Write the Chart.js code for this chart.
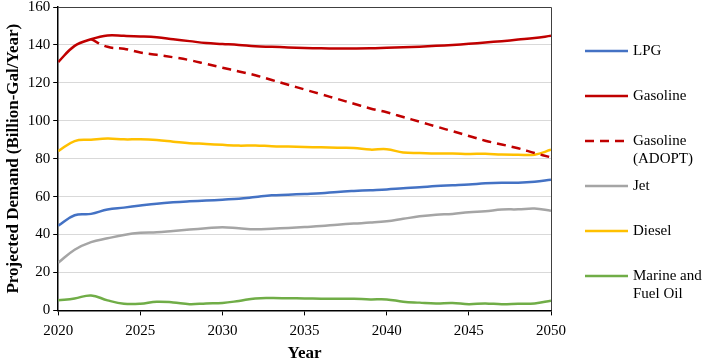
<!DOCTYPE html>
<html>
<head>
<meta charset="utf-8">
<script src="https://cdn.jsdelivr.net/npm/chart.js@4"></script>
<style>
  html, body { margin: 0; padding: 0; background: #fff; }
  #wrap { width: 706px; height: 360px; position: relative; }
</style>
</head>
<body>
<div id="wrap"><canvas id="demandChart"></canvas></div>
<script>
const years = [];
for (let y = 2020; y <= 2050; y++) years.push(y);

const seriesNames = ["LPG", "Gasoline", "Gasoline (ADOPT)", "Jet", "Diesel", "Marine and Fuel Oil"];

const lpg = [44.7, 50.2, 50.9, 53.2, 54.2, 55.3, 56.3, 57.0, 57.5, 57.9, 58.4, 58.9, 59.8, 60.7, 61.0, 61.4,
  61.8, 62.5, 63.0, 63.4, 63.8, 64.4, 64.9, 65.6, 66.0, 66.4, 67.0, 67.3, 67.3, 67.8, 68.9];
const gasoline = [131.0, 139.5, 143.0, 145.0, 144.8, 144.5, 144.0, 143.0, 142.0, 141.0, 140.5, 140.0, 139.3, 139.0,
  138.7, 138.4, 138.2, 138.1, 138.1, 138.2, 138.5, 138.8, 139.1, 139.5, 140.0, 140.6, 141.3, 142.0, 142.8, 143.6, 144.8];
const gasolineAdopt = [null, null, 143.0, 139.0, 138.0, 136.0, 134.8, 133.5, 132.0, 130.0, 128.0, 126.0, 124.0,
  121.5, 119.0, 116.5, 114.0, 111.5, 109.0, 106.5, 104.5, 102.0, 99.5, 97.0, 94.5, 92.0, 89.5, 87.5, 85.5, 83.0, 80.7];
const jet = [25.1, 32.0, 36.0, 38.0, 39.8, 40.9, 41.2, 41.9, 42.6, 43.3, 43.9, 43.3, 42.8, 43.1, 43.5, 44.0,
  44.5, 45.2, 45.8, 46.3, 47.0, 48.3, 49.6, 50.5, 50.9, 51.8, 52.3, 53.2, 53.3, 53.7, 52.6];
const diesel = [84.0, 89.3, 90.0, 90.6, 90.2, 90.2, 89.8, 89.0, 88.2, 87.8, 87.3, 86.9, 87.0, 86.6, 86.4, 86.2,
  86.0, 85.8, 85.7, 84.8, 85.0, 83.3, 83.0, 82.7, 82.8, 82.5, 82.6, 82.2, 82.1, 82.1, 84.7];
const marine = [5.3, 6.3, 7.9, 5.3, 3.5, 3.5, 4.6, 4.2, 3.3, 3.7, 3.9, 5.0, 6.3, 6.5, 6.4, 6.3,
  6.2, 6.2, 6.1, 5.8, 5.8, 4.6, 4.1, 3.7, 3.9, 3.3, 3.7, 3.2, 3.5, 3.7, 5.1];

const colors = ["#4472C4", "#C00000", "#C00000", "#A5A5A5", "#FFC000", "#70AD47"];
const seriesValues = [lpg, gasoline, gasolineAdopt, jet, diesel, marine];

const serif = "'Liberation Serif', 'Times New Roman', serif";

const datasets = seriesValues.map((vals, i) => ({
  label: seriesNames[i],
  data: vals.map((v, j) => ({ x: years[j], y: v })),
  borderColor: colors[i],
  backgroundColor: colors[i],
  borderWidth: 2.5,
  borderDash: i === 2 ? [9, 6] : [],
  pointRadius: 0,
  tension: 0.4,
  fill: false,
  spanGaps: false,
}));

// box round the plot area plus the legend on the right
const frameAndLegend = {
  id: "frameAndLegend",
  afterDatasetsDraw(chart) {
    const { ctx, chartArea } = chart;
    ctx.save();
    ctx.strokeStyle = "#404040";
    ctx.lineWidth = 1;
    ctx.beginPath();
    ctx.moveTo(chartArea.left, chartArea.top + 0.5);
    ctx.lineTo(chartArea.right + 0.5, chartArea.top + 0.5);
    ctx.lineTo(chartArea.right + 0.5, chartArea.bottom);
    ctx.stroke();
    ctx.restore();
  },
  afterDraw(chart) {
    const { ctx } = chart;
    const lineX0 = 585, lineX1 = 628, textX = 633, top = 51, gap = 45, maxW = 73;
    ctx.save();
    ctx.font = "15px " + serif;
    ctx.textBaseline = "middle";
    ctx.fillStyle = "#000";
    chart.data.datasets.forEach((ds, i) => {
      const y = top + i * gap;
      ctx.strokeStyle = ds.borderColor;
      ctx.lineWidth = 2.5;
      ctx.setLineDash(ds.borderDash);
      ctx.beginPath();
      ctx.moveTo(lineX0, y);
      ctx.lineTo(lineX1, y);
      ctx.stroke();
      ctx.setLineDash([]);
      const words = ds.label.split(" ");
      const lines = [];
      let cur = "";
      words.forEach(w => {
        const test = cur ? cur + " " + w : w;
        if (ctx.measureText(test).width > maxW && cur) {
          lines.push(cur);
          cur = w;
        } else {
          cur = test;
        }
      });
      lines.push(cur);
      lines.forEach((t, k) => ctx.fillText(t, textX, y + k * 18));
    });
    ctx.restore();
  }
};

new Chart(document.getElementById("demandChart"), {
  type: "line",
  data: { datasets },
  plugins: [frameAndLegend],
  options: {
    responsive: true,
    maintainAspectRatio: false,
    animation: false,
    layout: { padding: { top: 0, right: 155, left: 4, bottom: 0 } },
    plugins: {
      legend: { display: false },
      tooltip: { enabled: false },
    },
    scales: {
      x: {
        type: "linear",
        min: 2020,
        max: 2050,
        ticks: {
          stepSize: 5,
          color: "#000",
          font: { family: serif, size: 15, lineHeight: 1 },
          callback: v => String(v),
          padding: 8,
          maxRotation: 0,
        },
        grid: { drawOnChartArea: false, tickLength: 5, tickColor: "#000" },
        border: { color: "#000", width: 1.5 },
        title: {
          display: true,
          text: "Year",
          color: "#000",
          font: { family: serif, size: 17, weight: "bold", lineHeight: 0.8 },
          padding: { top: 0, bottom: 0 },
        },
      },
      y: {
        min: 0,
        max: 160,
        afterFit(scale) { scale.paddingTop = 7; },
        ticks: {
          stepSize: 20,
          color: "#000",
          font: { family: serif, size: 15, lineHeight: 1 },
          padding: 3,
        },
        grid: { color: "#D9D9D9", lineWidth: 1, tickLength: 5, tickColor: "#000" },
        border: { color: "#000", width: 1.5 },
        title: {
          display: true,
          text: "Projected Demand (Billion-Gal/Year)",
          color: "#000",
          font: { family: serif, size: 17, weight: "bold", lineHeight: 1.1 },
          padding: { top: 0, bottom: 2 },
        },
      },
    },
  },
});
</script>
</body>
</html>
